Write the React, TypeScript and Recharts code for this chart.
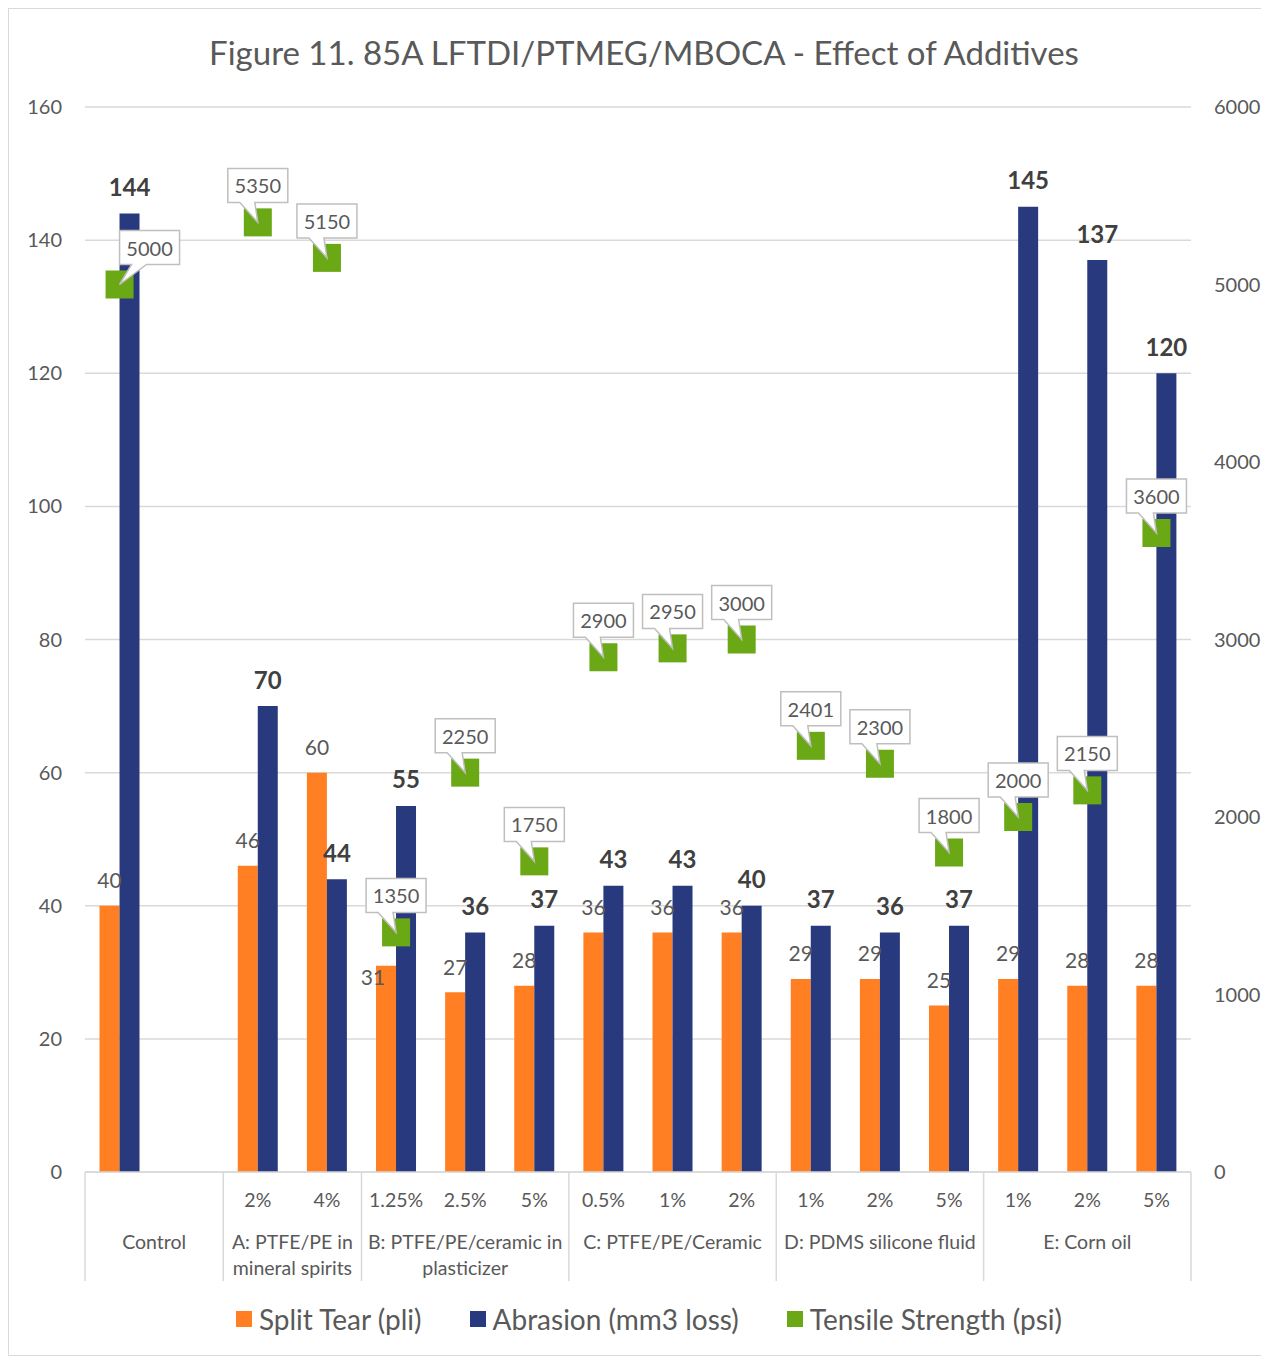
import React from 'react';
import { ComposedChart, Bar, Line, XAxis, YAxis, CartesianGrid, Legend, LabelList } from 'recharts';

const groupKeys = ['Control', 'Control', 'A', 'A', 'B', 'B', 'B', 'C', 'C', 'C', 'D', 'D', 'D', 'E', 'E', 'E'];
const groupNames: Record<string, string[]> = {
  Control: ['Control'],
  A: ['A: PTFE/PE in', 'mineral spirits'],
  B: ['B: PTFE/PE/ceramic in', 'plasticizer'],
  C: ['C: PTFE/PE/Ceramic'],
  D: ['D: PDMS silicone fluid'],
  E: ['E: Corn oil'],
};
const levels = ['', '', '2%', '4%', '1.25%', '2.5%', '5%', '0.5%', '1%', '2%', '1%', '2%', '5%', '1%', '2%', '5%'];
const splitTear = [40, null, 46, 60, 31, 27, 28, 36, 36, 36, 29, 29, 25, 29, 28, 28];
const abrasion = [144, null, 70, 44, 55, 36, 37, 43, 43, 40, 37, 36, 37, 145, 137, 120];
const tensile = [5000, null, 5350, 5150, 1350, 2250, 1750, 2900, 2950, 3000, 2401, 2300, 1800, 2000, 2150, 3600];
const leftTicks = [0, 20, 40, 60, 80, 100, 120, 140, 160];
const rightTicks = [0, 1000, 2000, 3000, 4000, 5000, 6000];

const TITLE = 'Figure 11. 85A LFTDI/PTMEG/MBOCA - Effect of Additives';
const ORANGE = '#FF7F22';
const NAVY = '#283A7D';
const GREEN = '#6AA816';
const TEXT = '#595959';
const DARK = '#404040';
const GRID = '#D9D9D9';
const FONT = 'Lato, "Open Sans", sans-serif';

const series = [
  { key: 'tear', name: 'Split Tear (pli)', color: ORANGE },
  { key: 'abrasion', name: 'Abrasion (mm3 loss)', color: NAVY },
  { key: 'tensile', name: 'Tensile Strength (psi)', color: GREEN },
];

const data = levels.map((lv, i) => ({
  key: String(i),
  level: lv,
  group: groupKeys[i],
  tear: splitTear[i],
  abrasion: abrasion[i],
  tensile: tensile[i],
}));

const CHART_W = 1258;
const CHART_H = 1346;
const MARGIN = { top: 98, right: 16, bottom: 10, left: 16 };
const YAXIS_W = 60;
const PLOT_W = CHART_W - MARGIN.left - MARGIN.right - 2 * YAXIS_W;

const MultiTick = (props: any) => {
  const { x, y, index } = props;
  const bw = PLOT_W / data.length;
  const row = data[index];
  const els: any[] = [];
  els.push(
    <text key="lv" x={x} y={y + 27} textAnchor="middle" dominantBaseline="central" fill={TEXT} fontSize={19.5} fontFamily={FONT}>
      {row.level}
    </text>
  );
  if (index === 0 || groupKeys[index] !== groupKeys[index - 1]) {
    let n = 0;
    while (index + n < data.length && groupKeys[index + n] === row.group) n++;
    const left = x - bw / 2;
    els.push(<line key="sep" x1={left} x2={left} y1={y} y2={y + 109} stroke={GRID} strokeWidth={1.5} />);
    const cx = left + (n * bw) / 2;
    groupNames[row.group].forEach((ln, j) => {
      els.push(
        <text key={'g' + j} x={cx} y={y + 69 + j * 26} textAnchor="middle" dominantBaseline="central" fill={TEXT} fontSize={19.5} fontFamily={FONT}>
          {ln}
        </text>
      );
    });
  }
  if (index === data.length - 1) {
    const right = x + bw / 2;
    els.push(<line key="end" x1={right} x2={right} y1={y} y2={y + 109} stroke={GRID} strokeWidth={1.5} />);
  }
  return <g>{els}</g>;
};

// label nudges keyed by the label's value position among non-empty labels
const tearLabelShift: Record<number, [number, number]> = { 3: [-13, 37] };

const TearLabel = (props: any) => {
  const { value, index } = props;
  if (value == null) return null;
  const vb = props.viewBox || props;
  const sh = tearLabelShift[index] || [0, 0];
  return (
    <text x={vb.x + vb.width / 2 + sh[0]} y={vb.y - 26 + sh[1]} textAnchor="middle" dominantBaseline="central" fill={TEXT} fontSize={21} fontFamily={FONT}>
      {value}
    </text>
  );
};

const AbrasionLabel = (props: any) => {
  const { value } = props;
  if (value == null) return null;
  const vb = props.viewBox || props;
  return (
    <text x={vb.x + vb.width / 2} y={vb.y - 27} textAnchor="middle" dominantBaseline="central" fill={DARK} fontSize={24} fontWeight="bold" fontFamily={FONT}>
      {value}
    </text>
  );
};

const SquareDot = (props: any) => {
  const { cx, cy, payload } = props;
  if (payload == null || payload.tensile == null || cx == null || cy == null) return null;
  return <rect x={cx - 14} y={cy - 14} width={28} height={28} fill={GREEN} />;
};

const calloutShift: Record<number, number> = { 0: 30 };

const Callout = (props: any) => {
  const { value, index } = props;
  if (value == null) return null;
  const vb = props.viewBox || props;
  const cx = vb.x + (vb.width || 0) / 2;
  const cy = vb.y + (vb.height || 0) / 2;
  if (cx == null || cy == null || isNaN(cx) || isNaN(cy)) return null;
  const w = 60;
  const h = 34;
  const bx = cx + (calloutShift[index] || 0);
  const left = bx - w / 2;
  const right = bx + w / 2;
  const top = cy - 54;
  const bottom = cy - 20;
  const b1 = left + w * 0.2;
  const b2 = left + w * 0.45;
  const d = `M${left},${top} H${right} V${bottom} H${b2} L${cx},${cy} L${b1},${bottom} H${left} Z`;
  return (
    <g>
      <path d={d} fill="#FFFFFF" stroke="#BFBFBF" strokeWidth={1.5} />
      <text x={bx} y={top + h / 2} textAnchor="middle" dominantBaseline="central" fill={TEXT} fontSize={20} fontFamily={FONT}>
        {value}
      </text>
    </g>
  );
};

const LegendContent = () => (
  <div style={{ height: 53, display: 'flex', justifyContent: 'center', alignItems: 'center', paddingLeft: 22, fontFamily: FONT }}>
    {series.map((s, i) => (
      <div key={s.key} style={{ display: 'flex', alignItems: 'center', marginLeft: i === 0 ? 0 : 48 }}>
        <div style={{ width: 16, height: 16, background: s.color, marginRight: 7 }} />
        <span style={{ fontSize: 28, color: TEXT, whiteSpace: 'nowrap' }}>{s.name}</span>
      </div>
    ))}
  </div>
);

export default function App() {
  return (
    <div style={{ position: 'relative', width: 1260, height: 1348, border: `1px solid ${GRID}`, boxSizing: 'border-box', background: '#fff' }}>
      <div style={{ position: 'absolute', top: 23, left: 0, width: CHART_W, textAlign: 'center', fontFamily: FONT, fontSize: 33, color: TEXT, lineHeight: '40px', paddingLeft: 12, boxSizing: 'border-box' }}>
        {TITLE}
      </div>
      <ComposedChart width={CHART_W} height={CHART_H} data={data} margin={MARGIN} barCategoryGap="21%" barGap={0}>
        <CartesianGrid yAxisId="left" vertical={false} stroke={GRID} strokeWidth={1.5} />
        <XAxis dataKey="key" type="category" interval={0} tick={<MultiTick />} tickLine={false} tickSize={0} tickMargin={0} axisLine={{ stroke: GRID, strokeWidth: 1.5 }} height={120} />
        <YAxis yAxisId="left" orientation="left" width={YAXIS_W} domain={[0, 160]} ticks={leftTicks} axisLine={false} tickLine={false} tickSize={0} tickMargin={23} tick={{ fill: TEXT, fontSize: 20, fontFamily: FONT }} />
        <YAxis yAxisId="right" orientation="right" width={YAXIS_W} domain={[0, 6000]} ticks={rightTicks} axisLine={false} tickLine={false} tickSize={0} tickMargin={23} tick={{ fill: TEXT, fontSize: 20, fontFamily: FONT }} />
        <Legend verticalAlign="bottom" content={<LegendContent />} />
        <Bar yAxisId="left" dataKey="tear" name={series[0].name} fill={ORANGE} isAnimationActive={false}>
          <LabelList dataKey="tear" content={<TearLabel />} />
        </Bar>
        <Bar yAxisId="left" dataKey="abrasion" name={series[1].name} fill={NAVY} isAnimationActive={false}>
          <LabelList dataKey="abrasion" content={<AbrasionLabel />} />
        </Bar>
        <Line yAxisId="right" dataKey="tensile" name={series[2].name} stroke="none" strokeWidth={0} dot={<SquareDot />} activeDot={false} isAnimationActive={false} connectNulls={false}>
          <LabelList dataKey="tensile" content={<Callout />} />
        </Line>
      </ComposedChart>
    </div>
  );
}
